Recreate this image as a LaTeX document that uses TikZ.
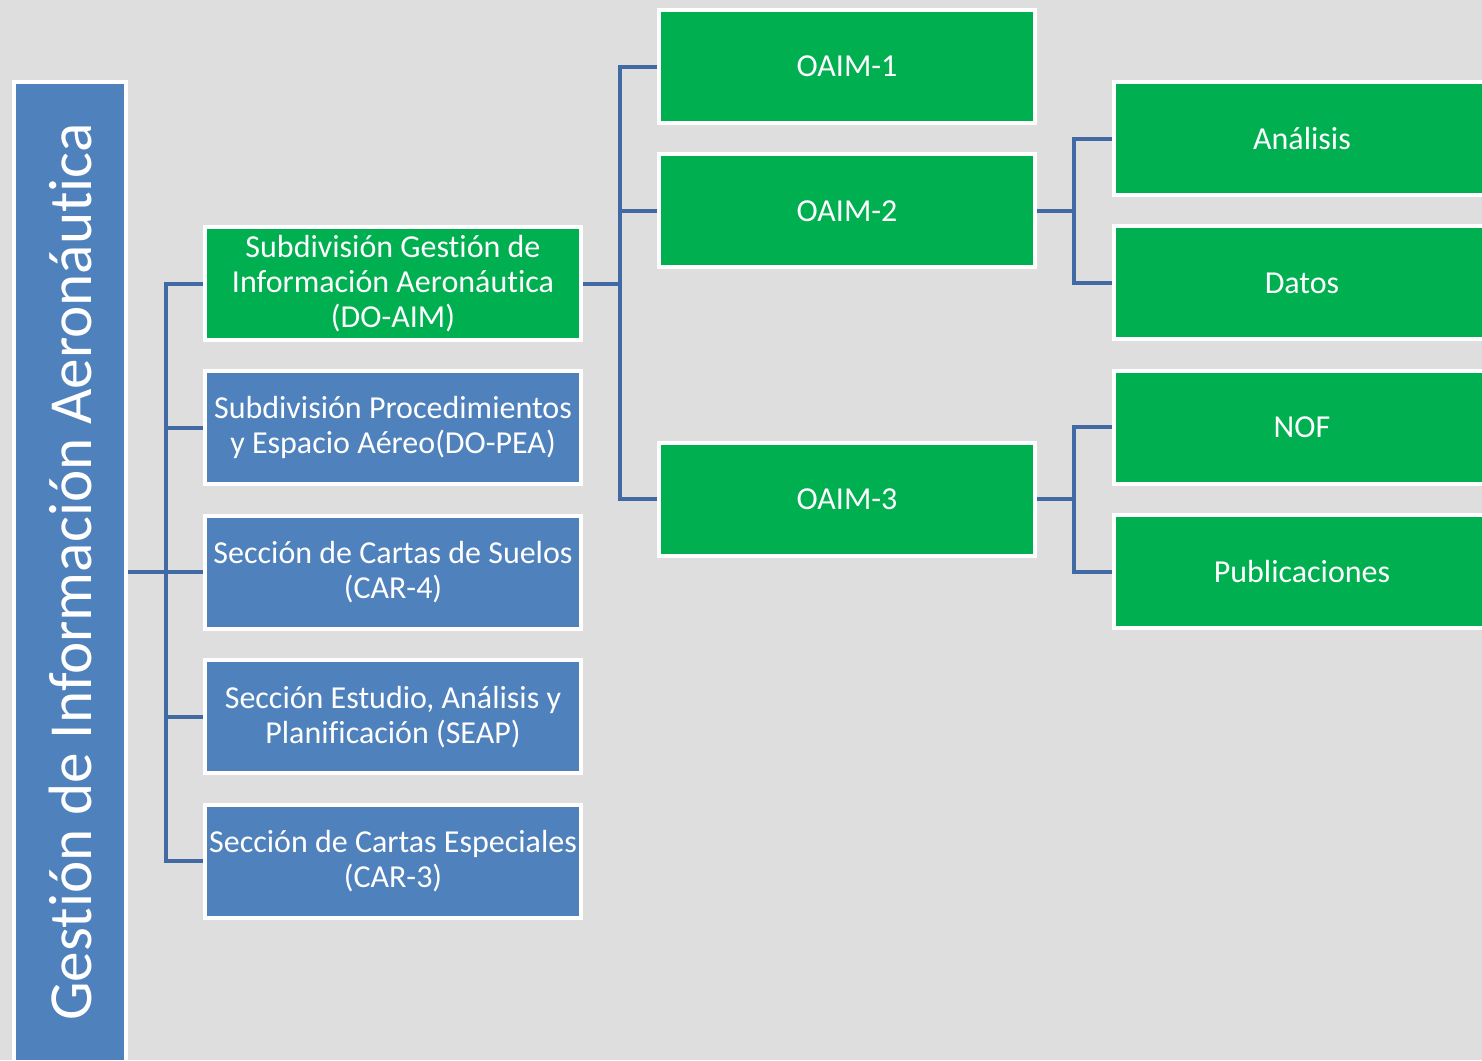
\documentclass[tikz,border=0pt]{standalone}
\usepackage{fontspec}
\setmainfont{Carlito}[RawFeature={-liga;-clig;-dlig;-calt}]
\usetikzlibrary{positioning}
\definecolor{bggray}{HTML}{DEDEDE}
\definecolor{unitgreen}{HTML}{00B050}
\definecolor{unitblue}{HTML}{4F81BD}
\definecolor{linkblue}{HTML}{4169A3}

\begin{document}
\begin{tikzpicture}[x=0.5pt, y=-0.5pt, node distance=13.7pt,
        unit/.style={draw=white, line width=2pt, rectangle, text=white, align=center,
            inner sep=0pt, minimum width=188pt, minimum height=56.5pt,
            font=\fontsize{16}{17.5}\selectfont},
        green unit/.style={unit, fill=unitgreen},
        blue unit/.style={unit, fill=unitblue},
        link/.style={draw=linkblue, line width=2pt}]
        % Background
        \fill[bggray] (0,0) rectangle (1482,1060);
        \useasboundingbox (0,0) rectangle (1482,1060);
        \clip (0,0) rectangle (1482,1060);

        % Nodes
        \node (title) [draw=white, line width=2pt, fill=unitblue, minimum width=56pt, minimum height=490pt, inner sep=0pt] at (70,572) {};
        \node (titletext) [rotate=90, text=white, font=\fontsize{30.6}{36}\selectfont] at (title.center) {Gestión de Información Aeronáutica};

        \node (aim) [green unit] at (393,283.5) {Subdivisión Gestión de\\Información Aeronáutica\\(DO-AIM)};
        \node (pea) [blue unit, below=of aim] {Subdivisión Procedimientos\\y Espacio Aéreo(DO-PEA)};
        \node (car4) [blue unit, below=of pea] {Sección de Cartas de Suelos\\(CAR-4)};
        \node (seap) [blue unit, below=of car4] {Sección Estudio, Análisis y\\Planificación (SEAP)};
        \node (car3) [blue unit, below=of seap] {Sección de Cartas Especiales\\(CAR-3)};

        \node (oaim1) [green unit] at (847,66.5) {OAIM-1};
        \node (oaim2) [green unit, below=of oaim1] {OAIM-2};
        \node (oaim3) [green unit] at (847,499) {OAIM-3};

        \node (analisis) [green unit] at (1302,138.5) {Análisis};
        \node (datos) [green unit, below=of analisis] {Datos};
        \node (nof) [green unit, below=of datos] {NOF};
        \node (pub) [green unit, below=of nof] {Publicaciones};

        % Edges
        \draw[link] (title.east) -- ++(38,0) coordinate (j1);
        \foreach \n in {aim,pea,car4,seap,car3}
            \draw[link] (j1) |- (\n.west);
        \draw[link] (aim.east) -- ++(37,0) coordinate (j2);
        \foreach \n in {oaim1,oaim2,oaim3}
            \draw[link] (j2) |- (\n.west);
        \draw[link] (oaim2.east) -- ++(37,0) coordinate (j3);
        \foreach \n in {analisis,datos}
            \draw[link] (j3) |- (\n.west);
        \draw[link] (oaim3.east) -- ++(37,0) coordinate (j4);
        \foreach \n in {nof,pub}
            \draw[link] (j4) |- (\n.west);
\end{tikzpicture}
\end{document}
